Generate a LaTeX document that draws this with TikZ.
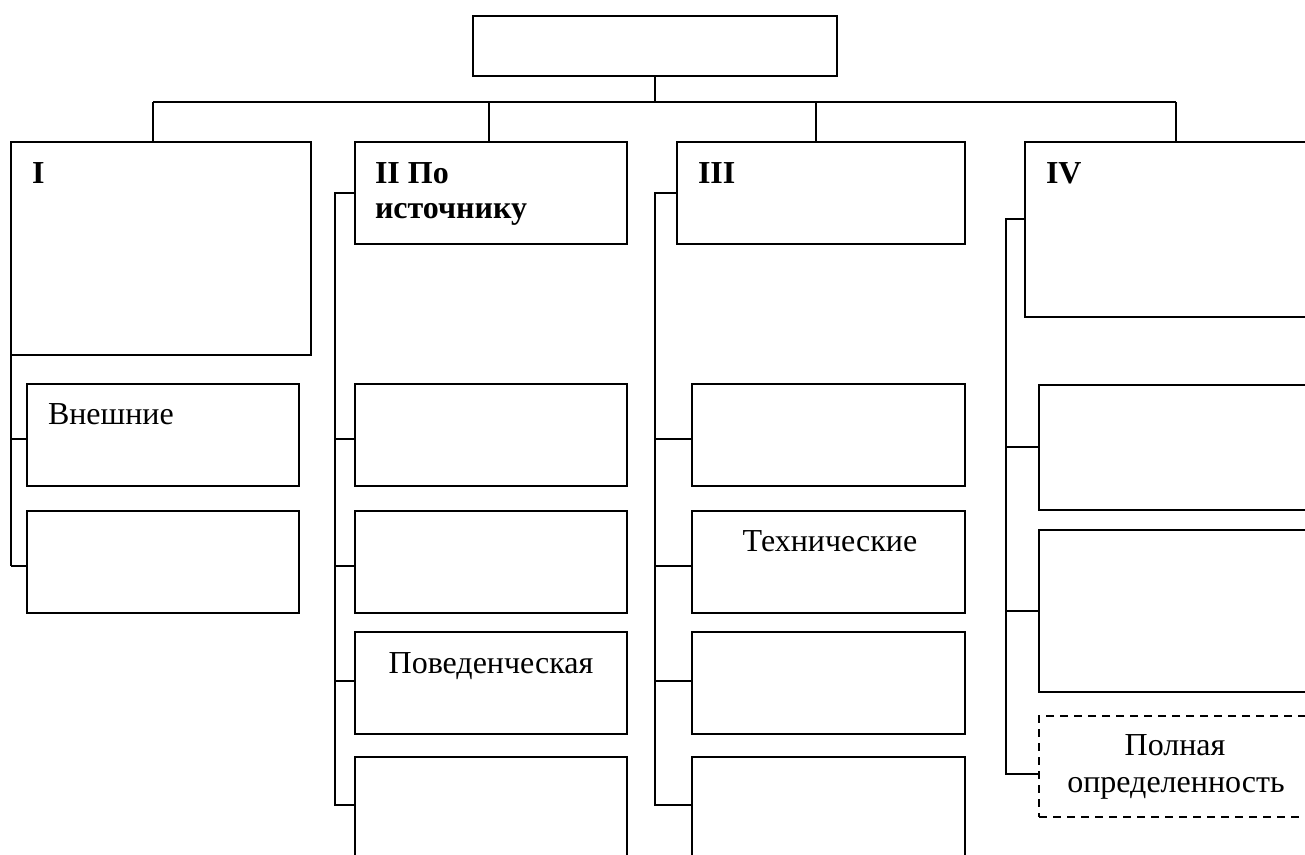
\documentclass[tikz,border=0pt]{standalone}
\usepackage{fontspec}
\setmainfont{Liberation Serif}
\usetikzlibrary{calc}
\tikzset{
  box/.style={draw=black, line width=2pt, inner sep=0pt, outer sep=0pt, anchor=north west, fill=none},
  dbox/.style={box, dash pattern=on 8pt off 6pt},
  conn/.style={draw=black, line width=2pt},
  txt/.style={inner sep=0pt, outer sep=0pt, font=\fontsize{32}{35}\selectfont},
  btxt/.style={inner sep=0pt, outer sep=0pt, font=\bfseries\fontsize{32}{35}\selectfont, anchor=base west}
}
\begin{document}
\begin{tikzpicture}[x=1pt,y=-1pt]
\useasboundingbox (0,0) rectangle (1305,854);
\clip (0,0) rectangle (1305,854);
% top box
\node[box, minimum width=364pt, minimum height=60pt] (top) at (473,16) {};
% column headers
\node[box, minimum width=300pt, minimum height=213pt] (I) at (11,142) {};
\node[box, minimum width=272pt, minimum height=102pt] (II) at (355,142) {};
\node[box, minimum width=288pt, minimum height=102pt] (III) at (677,142) {};
\node[box, minimum width=320pt, minimum height=175pt] (IV) at (1025,142) {};
% column I children
\node[box, minimum width=272pt, minimum height=102pt] (I1) at (27,384) {};
\node[box, minimum width=272pt, minimum height=102pt] (I2) at (27,511) {};
% column II children
\node[box, minimum width=272pt, minimum height=102pt] (II1) at (355,384) {};
\node[box, minimum width=272pt, minimum height=102pt] (II2) at (355,511) {};
\node[box, minimum width=272pt, minimum height=102pt] (II3) at (355,632) {};
\node[box, minimum width=272pt, minimum height=120pt] (II4) at (355,757) {};
% column III children
\node[box, minimum width=273pt, minimum height=102pt] (III1) at (692,384) {};
\node[box, minimum width=273pt, minimum height=102pt] (III2) at (692,511) {};
\node[box, minimum width=273pt, minimum height=102pt] (III3) at (692,632) {};
\node[box, minimum width=273pt, minimum height=120pt] (III4) at (692,757) {};
% column IV children
\node[box, minimum width=300pt, minimum height=125pt] (IV1) at (1039,385) {};
\node[box, minimum width=300pt, minimum height=162pt] (IV2) at (1039,530) {};
\node[dbox, minimum width=300pt, minimum height=101pt] (IV3) at (1039,716) {};
% texts
\node[btxt] (tI) at (32,183) {I};
\node[btxt] (tII) at (375,183) {II По};
\node[btxt] (tIIb) at (375,218) {источнику};
\node[btxt] (tIII) at (698,183) {III};
\node[btxt] (tIV) at (1046,183) {IV};
\node[txt, anchor=base west] (tI1) at (48,424) {Внешние};
\node[txt, anchor=base] (tII3) at (491,673) {Поведенческая};
\node[txt, anchor=base] (tIII2) at (830,551) {Технические};
\node[txt, anchor=base] (tIV3a) at (1175,755) {Полная};
\node[txt, anchor=base] (tIV3b) at (1176,792) {определенность};
% bus
\coordinate (b1) at (153,102);
\coordinate (b2) at (489,102);
\coordinate (b3) at (816,102);
\coordinate (b4) at (1176,102);
\draw[conn] (top.south) -- (top.south |- b1);
\draw[conn] (b1) -- (b4);
\draw[conn] (b1) -- (b1 |- I.north);
\draw[conn] (b2) -- (b2 |- II.north);
\draw[conn] (b3) -- (b3 |- III.north);
\draw[conn] (b4) -- (b4 |- IV.north);
% spine I
\coordinate (sI) at (11,0);
\draw[conn] (I.south west) -- (sI |- {$(I2.north west)+(0,55)$});
\draw[conn] ($(I1.north west)+(0,55)$) -- (sI |- {$(I1.north west)+(0,55)$});
\draw[conn] ($(I2.north west)+(0,55)$) -- (sI |- {$(I2.north west)+(0,55)$});
% spine II
\coordinate (sII) at (335,0);
\draw[conn] (II.west) -| (sII |- {$(II4.north west)+(0,48)$}) -- ($(II4.north west)+(0,48)$);
\draw[conn] ($(II1.north west)+(0,55)$) -- (sII |- {$(II1.north west)+(0,55)$});
\draw[conn] ($(II2.north west)+(0,55)$) -- (sII |- {$(II2.north west)+(0,55)$});
\draw[conn] ($(II3.north west)+(0,49)$) -- (sII |- {$(II3.north west)+(0,49)$});
% spine III
\coordinate (sIII) at (655,0);
\draw[conn] (III.west) -| (sIII |- {$(III4.north west)+(0,48)$}) -- ($(III4.north west)+(0,48)$);
\draw[conn] ($(III1.north west)+(0,55)$) -- (sIII |- {$(III1.north west)+(0,55)$});
\draw[conn] ($(III2.north west)+(0,55)$) -- (sIII |- {$(III2.north west)+(0,55)$});
\draw[conn] ($(III3.north west)+(0,49)$) -- (sIII |- {$(III3.north west)+(0,49)$});
% spine IV
\coordinate (sIV) at (1006,0);
\draw[conn] ($(IV.north west)+(0,77)$) -| (sIV |- {$(IV3.north west)+(0,58)$}) -- ($(IV3.north west)+(0,58)$);
\draw[conn] ($(IV1.north west)+(0,62)$) -- (sIV |- {$(IV1.north west)+(0,62)$});
\draw[conn] (IV2.west) -- (sIV |- IV2.west);
\end{tikzpicture}
\end{document}
